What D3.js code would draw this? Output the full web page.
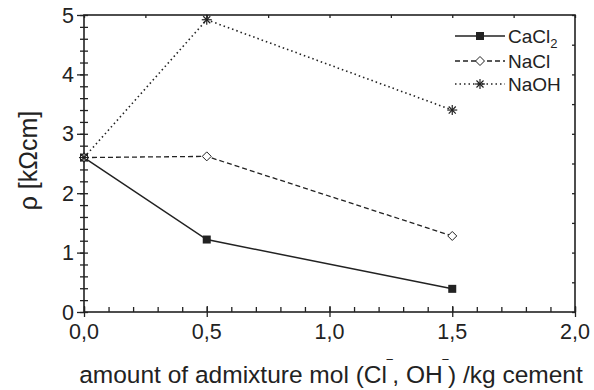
<!DOCTYPE html>
<html>
<head>
<meta charset="utf-8">
<script src="https://cdn.jsdelivr.net/npm/d3@7"></script>
<style>
  body { margin: 0; background: #fff; }
  text { font-family: "Liberation Sans", Arial, sans-serif; fill: #222; }
</style>
</head>
<body>
<svg id="chart" width="594" height="390"></svg>
<script>
// data
const xs = [0, 0.5, 1.5];
const cacl2 = [2.6, 1.22, 0.39];
const nacl = [2.6, 2.62, 1.28];
const naoh = [2.6, 4.92, 3.40];
const seriesNames = ['CaCl2', 'NaCl', 'NaOH'];
const xTicks = [0, 0.5, 1, 1.5, 2];
const yTicks = [0, 1, 2, 3, 4, 5];

const svg = d3.select('#chart');
const margin = { left: 84, right: 19, top: 15, bottom: 78 };
const width = 594 - margin.left - margin.right;
const height = 390 - margin.top - margin.bottom;

const x = d3.scaleLinear().domain([0, 2]).range([margin.left, margin.left + width]);
const y = d3.scaleLinear().domain([0, 5]).range([margin.top + height, margin.top]);

const ink = '#222';
const fmt = d => d3.format('.1f')(d).replace('.', ',');

const g = svg.append('g');

// minor ticks, drawn inward (and crossing on left/bottom)
const xMinor = d3.range(0, 2.0001, 0.1);
const yMinor = d3.range(0, 5.0001, 0.2);

function tickAxis(axis, scale, values, size, transform) {
  g.append('g')
    .attr('transform', transform)
    .call(axis(scale).tickValues(values).tickSize(size).tickFormat(''))
    .call(s => s.select('.domain').remove())
    .selectAll('line').attr('stroke', ink).attr('stroke-width', 1.3);
}

// bottom: minor ticks inward, majors crossing
tickAxis(d3.axisTop, x, xMinor, 5, `translate(0,${y(0)})`);
tickAxis(d3.axisBottom, x, xTicks, 5, `translate(0,${y(0)})`);
tickAxis(d3.axisTop, x, xTicks, 6, `translate(0,${y(0)})`);
// left: minor crossing, majors outward
tickAxis(d3.axisRight, y, yMinor, 4, `translate(${x(0)},0)`);
tickAxis(d3.axisLeft, y, yMinor, 4, `translate(${x(0)},0)`);
tickAxis(d3.axisLeft, y, yTicks, 7, `translate(${x(0)},0)`);
// top and right: small inward ticks
tickAxis(d3.axisBottom, x, d3.range(0, 2.0001, 0.25), 3, `translate(0,${y(5)})`);
tickAxis(d3.axisLeft, y, d3.range(0, 5.0001, 0.5), 3, `translate(${x(2)},0)`);

// frame
g.append('rect')
  .attr('x', x(0)).attr('y', y(5))
  .attr('width', x(2) - x(0)).attr('height', y(0) - y(5))
  .attr('fill', 'none').attr('stroke', ink).attr('stroke-width', 1.6);

// tick labels
g.selectAll('.xl').data(xTicks).enter().append('text')
  .attr('x', d => x(d)).attr('y', y(0) + 27)
  .attr('text-anchor', 'middle').attr('font-size', 21.5)
  .text(fmt);
g.selectAll('.yl').data(yTicks).enter().append('text')
  .attr('x', x(0) - 10).attr('y', d => y(d) + 7.5)
  .attr('text-anchor', 'end').attr('font-size', 21.5)
  .text(d => d);

// axis titles
const xt = svg.append('text')
  .attr('x', 331).attr('y', 383)
  .attr('text-anchor', 'middle').attr('font-size', 24.5);
xt.append('tspan').text('amount of admixture mol (Cl');
xt.append('tspan').attr('dy', -11).attr('font-size', 16).text('‾');
xt.append('tspan').attr('dy', 11).text(', OH');
xt.append('tspan').attr('dy', -11).attr('font-size', 16).text('‾');
xt.append('tspan').attr('dy', 11).text(') /kg cement');

svg.append('text')
  .attr('transform', `translate(37,${y(2.55)}) rotate(-90)`)
  .attr('text-anchor', 'middle').attr('font-size', 25)
  .text('ρ [kΩcm]');

// lines
const styles = [
  { values: cacl2, dash: null, width: 1.5, marker: 'square' },
  { values: nacl, dash: '5,3', width: 1.3, marker: 'diamond' },
  { values: naoh, dash: '1.5,3', width: 1.6, marker: 'star' }
];

const line = d3.line().x(d => x(d[0])).y(d => y(d[1]));

function drawMarker(sel, type, cx, cy) {
  if (type === 'square') {
    sel.append('rect').attr('x', cx - 4).attr('y', cy - 4).attr('width', 8).attr('height', 8)
      .attr('fill', ink);
  } else if (type === 'diamond') {
    sel.append('path')
      .attr('d', `M${cx},${cy - 4.5}L${cx + 4.5},${cy}L${cx},${cy + 4.5}L${cx - 4.5},${cy}Z`)
      .attr('fill', '#fff').attr('stroke', ink).attr('stroke-width', 1);
  } else {
    const r = 5;
    const s = sel.append('g').attr('stroke', ink).attr('stroke-width', 1.2);
    [0, 45, 90, 135].forEach(a => {
      const dx = r * Math.cos(a * Math.PI / 180), dy = r * Math.sin(a * Math.PI / 180);
      s.append('line').attr('x1', cx - dx).attr('y1', cy - dy).attr('x2', cx + dx).attr('y2', cy + dy);
    });
  }
}

styles.forEach(st => {
  const pts = xs.map((v, i) => [v, st.values[i]]);
  svg.append('path')
    .attr('d', line(pts))
    .attr('fill', 'none').attr('stroke', ink)
    .attr('stroke-width', st.width)
    .attr('stroke-dasharray', st.dash);
  const mg = svg.append('g');
  pts.forEach(p => drawMarker(mg, st.marker, x(p[0]), y(p[1])));
});

// legend
const legend = svg.append('g');
const rowsY = [36, 61, 84];
styles.forEach((st, i) => {
  legend.append('line')
    .attr('x1', 455).attr('x2', 505).attr('y1', rowsY[i]).attr('y2', rowsY[i])
    .attr('stroke', ink).attr('stroke-width', st.width)
    .attr('stroke-dasharray', st.dash);
  drawMarker(legend, st.marker, 480, rowsY[i]);
  const t = legend.append('text')
    .attr('x', 508).attr('y', rowsY[i] + 7).attr('font-size', 19);
  if (seriesNames[i] === 'CaCl2') {
    t.append('tspan').text('CaCl');
    t.append('tspan').attr('dy', 5).attr('font-size', 13).text('2');
  } else {
    t.text(seriesNames[i]);
  }
});
</script>
</body>
</html>
